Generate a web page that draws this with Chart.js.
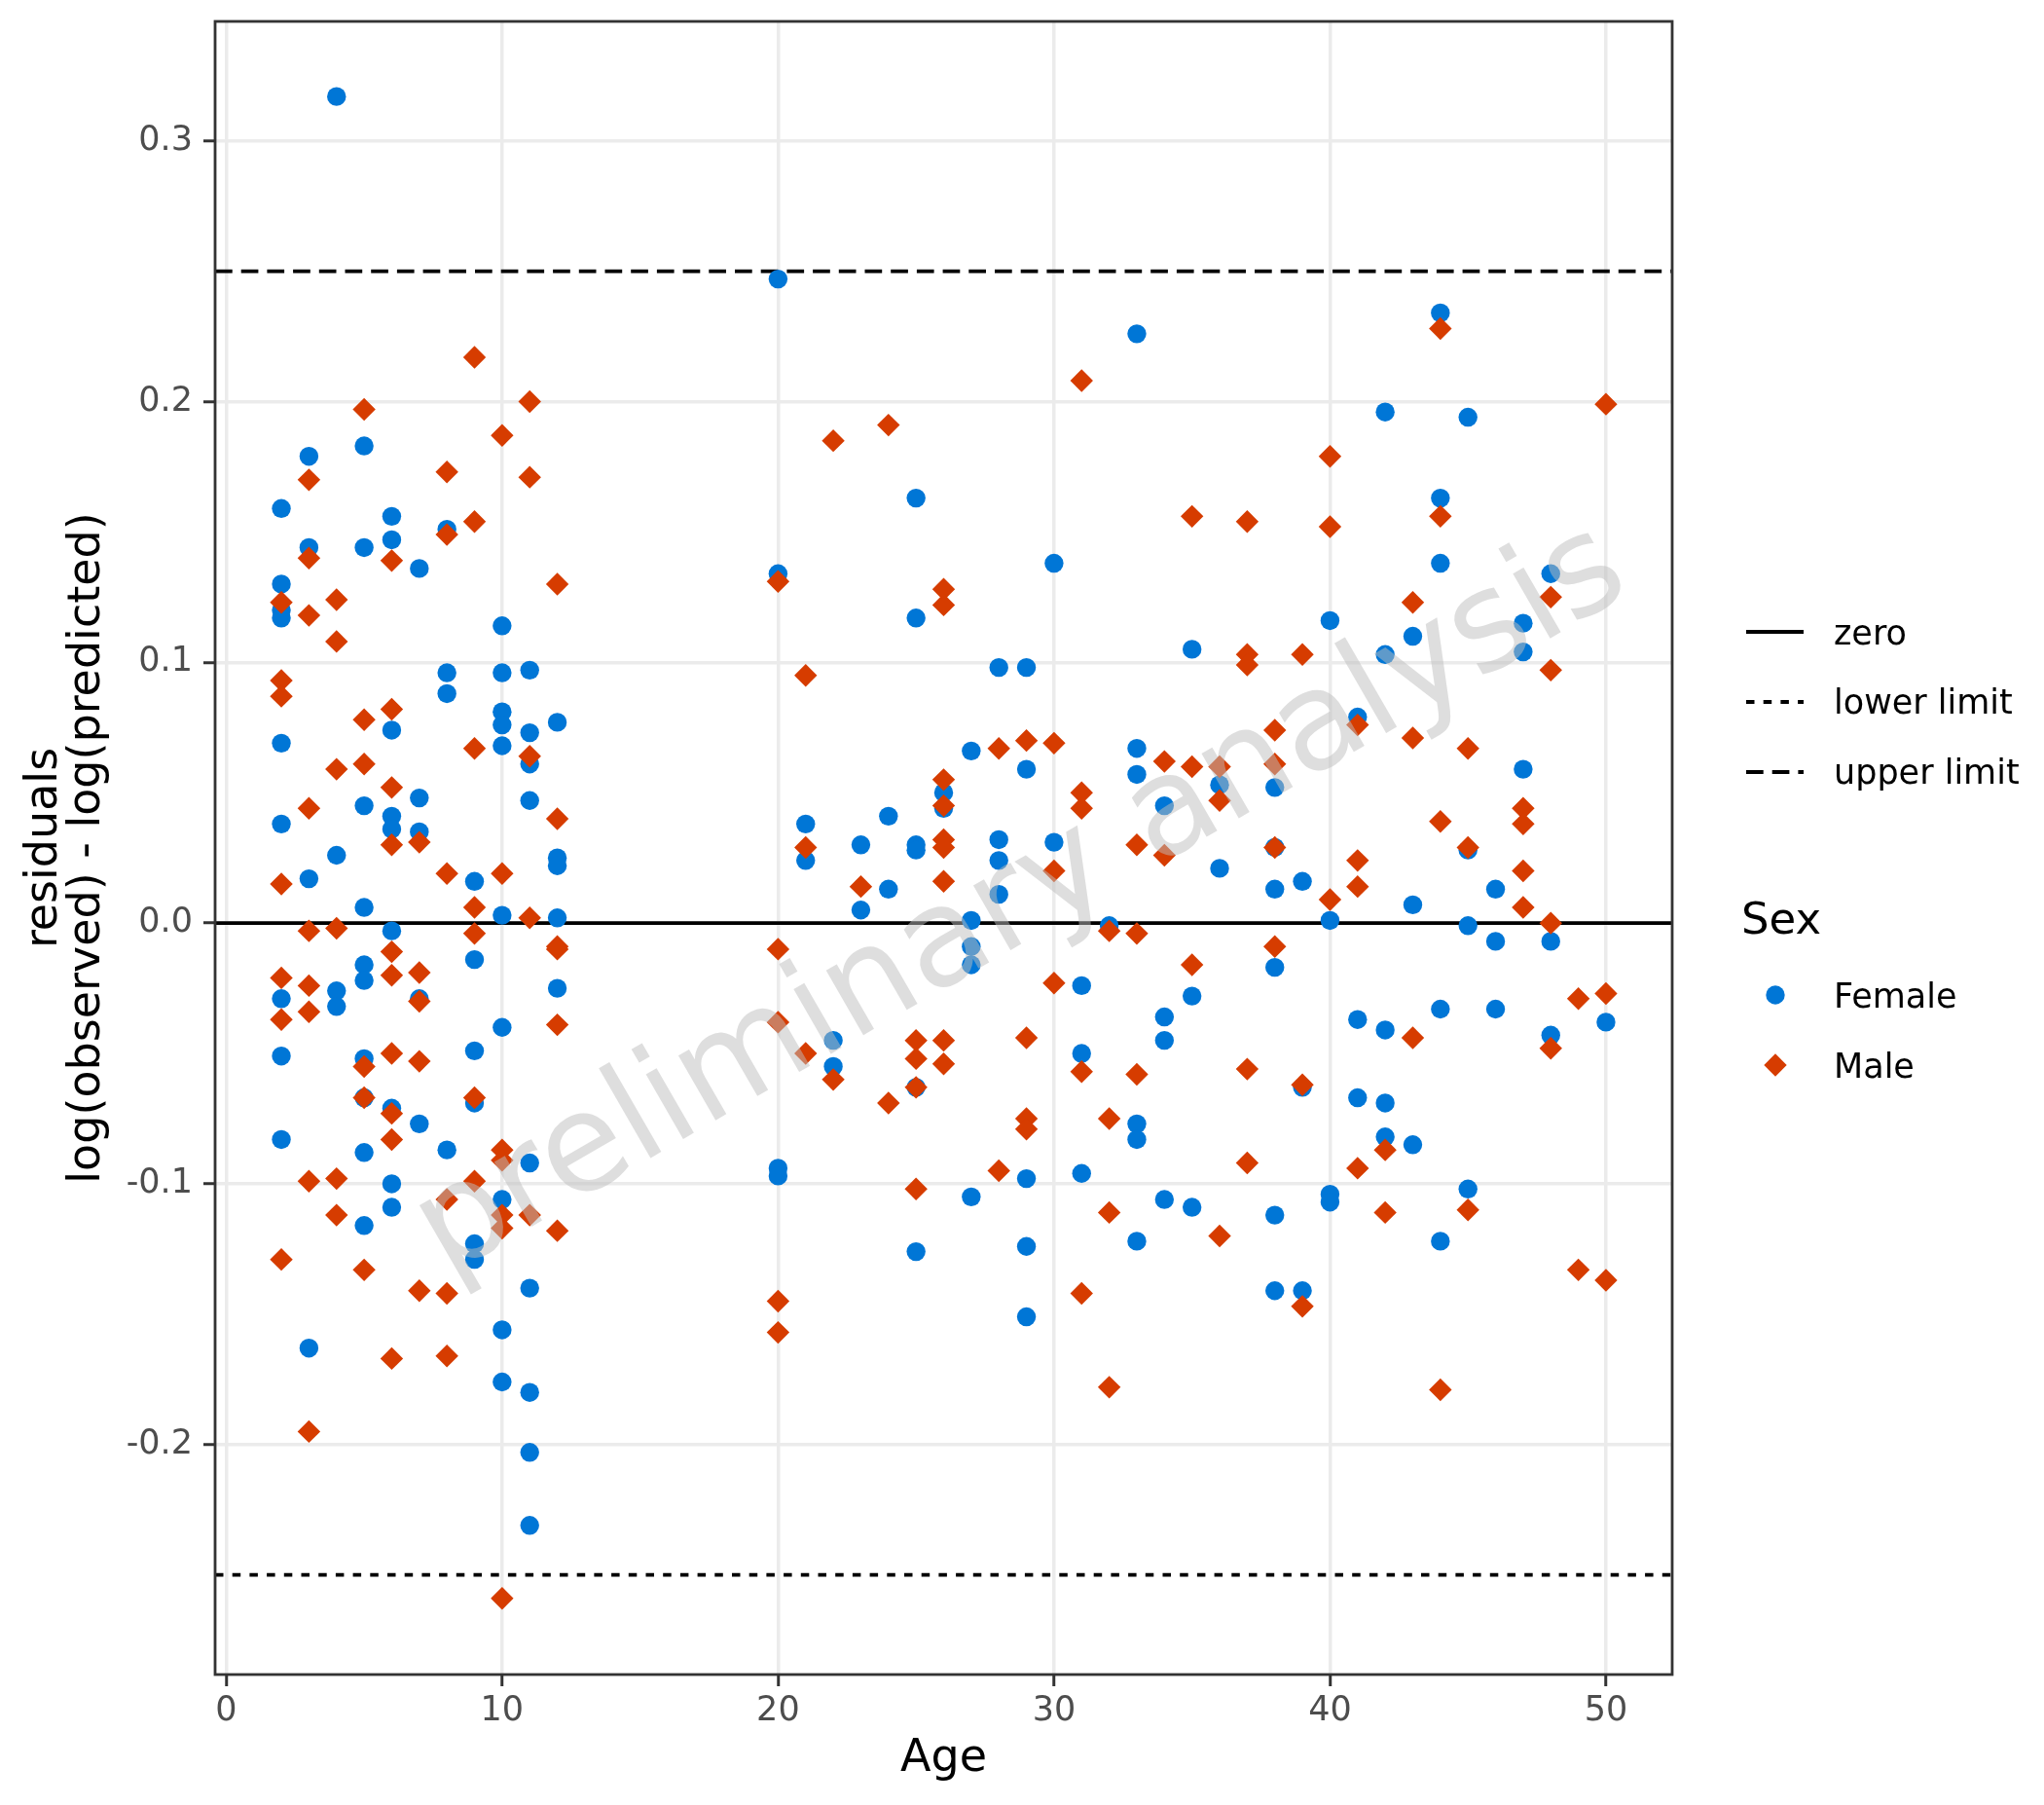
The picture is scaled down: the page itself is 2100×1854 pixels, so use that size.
<!DOCTYPE html>
<html><head><meta charset="utf-8">
<script src="https://cdn.jsdelivr.net/npm/chart.js@4.4.1/dist/chart.umd.min.js"></script>
<style>html,body{margin:0;padding:0;background:#fff}#wrap{width:2100px;height:1854px;position:relative}</style>
</head><body><div id="wrap"><canvas id="c"></canvas></div>
<script>
const xTicks = [0, 10, 20, 30, 40, 50];
const yTicks = [-0.2, -0.1, 0, 0.1, 0.2, 0.3];
const xRange = [-0.4, 52.4];
const yRange = [-0.2882, 0.3458];
const refLines = [0, -0.25, 0.25];
const refNames = ['zero', 'lower limit', 'upper limit'];
const sexNames = ['Female', 'Male'];
const xTitle = 'Age';
const yTitle = ['residuals', 'log(observed) - log(predicted)'];
const watermark = 'preliminary analysis';

const femaleAges = [2,3,4,5,6,7,8,9,10,11,12,20,21,22,23,24,25,26,27,28,29,30,31,32,33,34,35,36,38,39,40,41,42,43,44,45,46,47,48,50];
const femaleResid = [
 [0.159,0.130,0.120,0.117,0.069,0.038,-0.029,-0.051,-0.083],
 [0.179,0.144,0.017,-0.163],
 [0.317,0.026,-0.026,-0.032],
 [0.183,0.144,0.045,0.006,-0.016,-0.022,-0.052,-0.067,-0.088,-0.116],
 [0.156,0.147,0.074,0.041,0.036,-0.003,-0.071,-0.100,-0.109],
 [0.136,0.048,0.035,-0.029,-0.077],
 [0.151,0.096,0.088,-0.087],
 [0.016,-0.014,-0.049,-0.069,-0.123,-0.129],
 [0.114,0.096,0.081,0.076,0.068,0.003,-0.040,-0.106,-0.156,-0.176],
 [0.097,0.073,0.061,0.047,-0.092,-0.140,-0.180,-0.203,-0.231],
 [0.077,0.025,0.022,0.002,-0.025],
 [0.247,0.134,-0.094,-0.097],
 [0.038,0.024],
 [-0.045,-0.055],
 [0.030,0.005],
 [0.041,0.013],
 [0.163,0.117,0.030,0.028,-0.063,-0.126],
 [0.050,0.044],
 [0.066,0.001,-0.009,-0.016,-0.105],
 [0.098,0.032,0.024,0.011],
 [0.098,0.059,-0.098,-0.124,-0.151],
 [0.138,0.031],
 [-0.024,-0.050,-0.096],
 [-0.001],
 [0.226,0.067,0.057,-0.077,-0.083,-0.122],
 [0.045,-0.036,-0.045,-0.106],
 [0.105,-0.028,-0.109],
 [0.053,0.021],
 [0.052,0.029,0.013,-0.017,-0.112,-0.141],
 [0.016,-0.063,-0.141],
 [0.116,0.001,-0.104,-0.107],
 [0.079,-0.037,-0.067],
 [0.196,0.103,-0.041,-0.069,-0.082],
 [0.110,0.007,-0.085],
 [0.234,0.163,0.138,-0.033,-0.122],
 [0.194,0.028,-0.001,-0.102],
 [0.013,-0.007,-0.033],
 [0.115,0.104,0.059],
 [0.134,-0.007,-0.043],
 [-0.038]
];
const maleAges = [2,3,4,5,6,7,8,9,10,11,12,20,21,22,23,24,25,26,28,29,30,31,32,33,34,35,36,37,38,39,40,41,42,43,44,45,47,48,49,50];
const maleResid = [
 [0.123,0.093,0.087,0.015,-0.021,-0.037,-0.129],
 [0.170,0.140,0.118,0.044,-0.003,-0.024,-0.034,-0.099,-0.195],
 [0.124,0.108,0.059,-0.002,-0.098,-0.112],
 [0.197,0.078,0.061,-0.055,-0.067,-0.133],
 [0.139,0.082,0.052,0.030,-0.011,-0.020,-0.050,-0.073,-0.083,-0.167],
 [0.031,-0.019,-0.030,-0.053,-0.141],
 [0.173,0.149,0.019,-0.106,-0.142,-0.166],
 [0.217,0.154,0.067,0.006,-0.004,-0.067,-0.099],
 [0.187,0.019,-0.087,-0.091,-0.112,-0.117,-0.259],
 [0.200,0.171,0.064,0.002,-0.112],
 [0.130,0.040,-0.009,-0.010,-0.039,-0.118],
 [0.131,-0.010,-0.038,-0.145,-0.157],
 [0.095,0.029,-0.050],
 [0.185,-0.060],
 [0.014],
 [0.191,-0.069],
 [-0.045,-0.052,-0.063,-0.102],
 [0.128,0.122,0.055,0.045,0.032,0.029,0.016,-0.045,-0.054],
 [0.067,-0.095],
 [0.070,-0.044,-0.075,-0.079],
 [0.069,0.020,-0.023],
 [0.208,0.050,0.044,-0.057,-0.142],
 [-0.003,-0.075,-0.111,-0.178],
 [0.030,-0.004,-0.058],
 [0.062,0.026],
 [0.156,0.060,-0.016],
 [0.060,0.047,-0.120],
 [0.154,0.103,0.099,-0.056,-0.092],
 [0.074,0.061,0.029,-0.009],
 [0.103,-0.062,-0.147],
 [0.179,0.152,0.009],
 [0.076,0.024,0.014,-0.094],
 [-0.087,-0.111],
 [0.123,0.071,-0.044],
 [0.228,0.156,0.039,-0.179],
 [0.067,0.029,-0.110],
 [0.044,0.038,0.020,0.006],
 [0.125,0.097,0.000,-0.048],
 [-0.029,-0.133],
 [0.199,-0.027,-0.137]
];

const FEMALE = '#0076D6';
const MALE = '#D63C00';
const FONT = "'DejaVu Sans', 'Liberation Sans', sans-serif";
const dashes = [[], [8.5, 9.2], [17.7, 9.0]];
const lineW = 3.8;

function flatten(ages, resid) {
  const out = [];
  ages.forEach((a, i) => resid[i].forEach(v => out.push({ x: a, y: v })));
  return out;
}

const decorPlugin = {
  id: 'decor',
  afterDatasetsDraw(chart) {
    const { ctx, chartArea: a } = chart;
    ctx.save();
    ctx.strokeStyle = '#333333';
    ctx.lineWidth = 2.8;
    ctx.strokeRect(a.left, a.top, a.right - a.left, a.bottom - a.top);
    ctx.restore();
  },
  afterDraw(chart) {
    const { ctx, chartArea: a } = chart;
    ctx.save();
    ctx.fillStyle = '#000';
    ctx.font = '46px ' + FONT;
    ctx.textAlign = 'center';
    ctx.textBaseline = 'alphabetic';
    ctx.fillText(xTitle, (a.left + a.right) / 2, 1819);
    const cy = (a.top + a.bottom) / 2;
    [58, 102].forEach((bx, i) => {
      ctx.save();
      ctx.translate(bx, cy);
      ctx.rotate(-Math.PI / 2);
      ctx.fillText(yTitle[i], 0, 0);
      ctx.restore();
    });
    const lx0 = 1794, lx1 = 1853, tx = 1884;
    const lineY = [649, 721, 793];
    const lineBase = [662, 733, 805];
    ctx.font = '35px ' + FONT;
    ctx.textAlign = 'left';
    refNames.forEach((name, i) => {
      ctx.save();
      ctx.strokeStyle = '#000';
      ctx.lineWidth = lineW;
      ctx.setLineDash(dashes[i]);
      ctx.beginPath();
      ctx.moveTo(lx0, lineY[i]);
      ctx.lineTo(lx1, lineY[i]);
      ctx.stroke();
      ctx.restore();
      ctx.fillText(name, tx, lineBase[i]);
    });
    ctx.font = '45px ' + FONT;
    ctx.fillText('Sex', 1789, 959);
    ctx.font = '35px ' + FONT;
    const keyX = 1824;
    ctx.fillStyle = FEMALE;
    ctx.beginPath();
    ctx.arc(keyX, 1022, 9.7, 0, Math.PI * 2);
    ctx.fill();
    ctx.fillStyle = MALE;
    ctx.beginPath();
    const r = 11.7, my = 1094;
    ctx.moveTo(keyX - r, my); ctx.lineTo(keyX, my - r); ctx.lineTo(keyX + r, my); ctx.lineTo(keyX, my + r);
    ctx.closePath();
    ctx.fill();
    ctx.fillStyle = '#000';
    ctx.fillText(sexNames[0], tx, 1035);
    ctx.fillText(sexNames[1], tx, 1107);
    ctx.save();
    ctx.translate(1050, 927);
    ctx.rotate(-30 * Math.PI / 180);
    ctx.font = '140px ' + FONT;
    ctx.textAlign = 'center';
    ctx.textBaseline = 'middle';
    ctx.fillStyle = 'rgba(190,190,190,0.5)';
    ctx.fillText(watermark, 0, 0);
    ctx.restore();
    ctx.restore();
  }
};

const lineDatasets = refLines.map((v, i) => ({
  type: 'line',
  label: refNames[i],
  data: [{ x: xRange[0], y: v }, { x: xRange[1], y: v }],
  borderColor: '#000000',
  borderWidth: lineW,
  borderDash: dashes[i],
  pointRadius: 0,
  fill: false,
  order: 2
}));

new Chart(document.getElementById('c'), {
  type: 'scatter',
  data: {
    datasets: [
      { label: sexNames[1], data: flatten(maleAges, maleResid), pointStyle: 'rectRot', pointRadius: 11.7,
        pointBackgroundColor: MALE, pointBorderWidth: 0, pointHoverRadius: 11.7, order: 0 },
      { label: sexNames[0], data: flatten(femaleAges, femaleResid), pointStyle: 'circle', pointRadius: 9.7,
        pointBackgroundColor: FEMALE, pointBorderWidth: 0, pointHoverRadius: 9.7, order: 1 },
      ...lineDatasets
    ]
  },
  options: {
    responsive: true,
    maintainAspectRatio: false,
    devicePixelRatio: 1,
    animation: false,
    layout: { autoPadding: false, padding: { left: 0, right: 382, top: 22, bottom: 0 } },
    plugins: { legend: { display: false }, tooltip: { enabled: false } },
    scales: {
      x: {
        type: 'linear', min: xRange[0], max: xRange[1],
        afterBuildTicks: s => { s.ticks = xTicks.map(v => ({ value: v })); },
        afterFit: s => { s.height = 134; s.paddingLeft = 0; s.paddingRight = 0; },
        grid: { color: '#EBEBEB', lineWidth: 3.5, tickColor: '#333333', tickWidth: 3, tickLength: 12 },
        border: { display: false },
        ticks: { font: { family: FONT, size: 35 }, color: '#4D4D4D', padding: 5, maxRotation: 0, autoSkip: false,
                 callback: v => String(v) }
      },
      y: {
        type: 'linear', min: yRange[0], max: yRange[1],
        afterBuildTicks: s => { s.ticks = yTicks.map(v => ({ value: v })); },
        afterFit: s => { s.width = 221; s.paddingTop = 0; s.paddingBottom = 0; },
        grid: { color: '#EBEBEB', lineWidth: 3.5, tickColor: '#333333', tickWidth: 3, tickLength: 12 },
        border: { display: false },
        ticks: { font: { family: FONT, size: 35 }, color: '#4D4D4D', padding: 11, autoSkip: false,
                 callback: v => Number(v).toFixed(1) }
      }
    }
  },
  plugins: [decorPlugin]
});
</script>
</body></html>
